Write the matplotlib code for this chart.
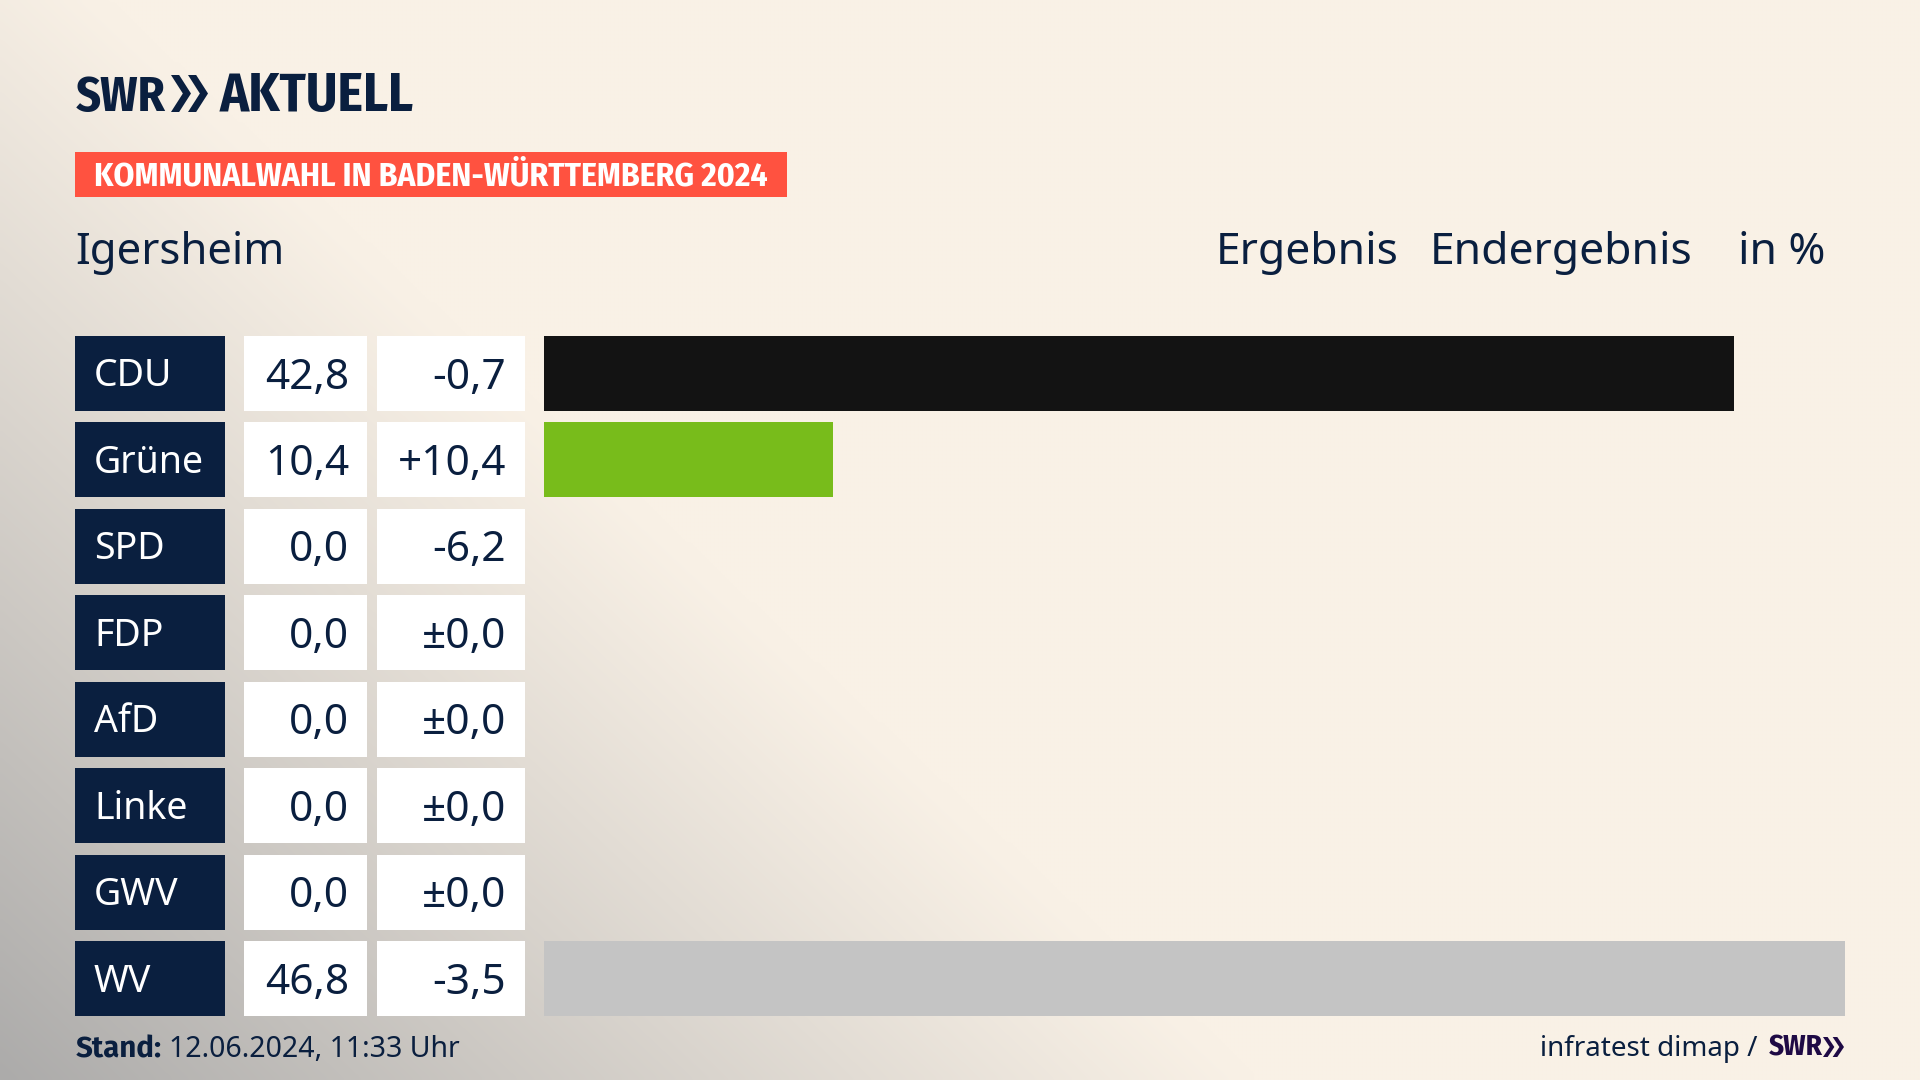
import numpy as np
import matplotlib
matplotlib.use("Agg")
import matplotlib.pyplot as plt
from matplotlib import font_manager as fm
from matplotlib.patches import Rectangle, Polygon

# Data
parties = ["CDU", "Grüne", "SPD", "FDP", "AfD", "Linke", "GWV", "WV"]
results = [42.8, 10.4, 0.0, 0.0, 0.0, 0.0, 0.0, 46.8]
changes = [-0.7, 10.4, -6.2, 0.0, 0.0, 0.0, 0.0, -3.5]
bar_colors = ["#131313", "#78BC1B", "#888888", "#888888", "#888888", "#888888", "#888888", "#C4C4C4"]

NAVY = "#0A1F3F"
PURPLE = "#1F0A45"
BG = np.array([0xF9, 0xF1, 0xE6]) / 255
GREY = np.array([0xAC, 0xAB, 0xAA]) / 255

W, H = 1920, 1080
ROW_TOP, ROW_STEP, ROW_H = 336, 86.43, 75

installed = {f.name for f in fm.fontManager.ttflist}


def pick(*names):
    return [n for n in names if n in installed] + ["DejaVu Sans"]


FONT = pick("Noto Sans")
NARROW = pick("Fira Sans Condensed", "Roboto Condensed", "Barlow Condensed", "Liberation Sans Narrow", "Liberation Sans")
BOLD = pick("Fira Sans", "Lato", "Liberation Sans")


def fmt_result(v):
    return f"{v:.1f}".replace(".", ",")


def fmt_change(v):
    if v == 0:
        return "±0,0"
    return f"{v:+.1f}".replace(".", ",")


def fit_text(ax, x, y, s, width, **kw):
    # set the font size so the string is as wide as in the reference
    t = ax.text(x, y, s, va="baseline", fontsize=20, **kw)
    ext = t.get_window_extent(fig.canvas.get_renderer())
    t.set_fontsize(20 * width / ext.width)
    return t


def chevrons(ax, x, y, h, w, color):
    # the two SWR arrows of the logo
    bw = w * 0.22
    tip = w * 0.32
    for off in (0, w - bw - tip):
        pts = [(x + off, y), (x + off + bw, y), (x + off + bw + tip, y + h / 2),
               (x + off + bw, y + h), (x + off, y + h), (x + off + tip, y + h / 2)]
        ax.add_patch(Polygon(pts, closed=True, color=color, lw=0))


fig = plt.figure(figsize=(19.2, 10.8), dpi=100)

# background gradient from the lower left corner
bg_ax = fig.add_axes([0, 0, 1, 1])
yy, xx = np.mgrid[0:H:270j, 0:W:480j]
d = (xx + 1.065 * (H - yy)) / 1250
w = np.clip(1 - d, 0, 1) ** 1.05
img = BG[None, None, :] * (1 - w[..., None]) + GREY[None, None, :] * w[..., None]
bg_ax.imshow(img, extent=[0, W, H, 0], aspect="auto", interpolation="bicubic")
bg_ax.set_xlim(0, W)
bg_ax.set_ylim(H, 0)
bg_ax.axis("off")

# logo, banner and headline
fit_text(bg_ax, 76, 111, "SWR", 90, family=NARROW, weight="bold", color=NAVY)
chevrons(bg_ax, 171, 75, 37, 37, NAVY)
fit_text(bg_ax, 220, 111, "AKTUELL", 194, family=NARROW, weight="bold", color=NAVY)

bg_ax.add_patch(Rectangle((75, 152), 712, 45, color="#FF5240", lw=0))
fit_text(bg_ax, 94, 185, "KOMMUNALWAHL IN BADEN-WÜRTTEMBERG 2024", 673, family=NARROW, weight="bold", color="white")

bg_ax.text(75, 264, "Igersheim", family=FONT, fontsize=31.5, color=NAVY, va="baseline")
bg_ax.text(1216, 264, "Ergebnis", family=FONT, fontsize=32, color=NAVY, va="baseline")
bg_ax.text(1430, 264, "Endergebnis", family=FONT, fontsize=32, color=NAVY, va="baseline")
bg_ax.text(1825, 264, "in %", family=FONT, fontsize=32, color=NAVY, va="baseline", ha="right")

# table cells
for i, party in enumerate(parties):
    top = ROW_TOP + ROW_STEP * i
    mid = top + ROW_H / 2 + 15
    bg_ax.add_patch(Rectangle((75, top), 150, ROW_H, color=NAVY, lw=0))
    bg_ax.add_patch(Rectangle((244, top), 123, ROW_H, color="white", lw=0))
    bg_ax.add_patch(Rectangle((377, top), 148, ROW_H, color="white", lw=0))
    bg_ax.text(94, mid - 2, party, family=FONT, fontsize=27, color="white", va="baseline")
    bg_ax.text(349, mid, fmt_result(results[i]), family=FONT, fontsize=30.5, color=NAVY, va="baseline", ha="right")
    bg_ax.text(506, mid, fmt_change(changes[i]), family=FONT, fontsize=30.5, color=NAVY, va="baseline", ha="right")

# footer
fit_text(bg_ax, 76, 1057, "Stand:", 86, family=BOLD, weight="bold", color=NAVY)
bg_ax.text(169, 1057, "12.06.2024, 11:33 Uhr", family=FONT, fontsize=20.5, color=NAVY, va="baseline")
bg_ax.text(1757, 1056, "infratest dimap /", family=FONT, fontsize=20, color=NAVY, va="baseline", ha="right")
fit_text(bg_ax, 1769, 1056, "SWR", 54, family=NARROW, weight="bold", color=PURPLE)
chevrons(bg_ax, 1823, 1037, 20, 21, PURPLE)

# bars
bar_h = ROW_H / ROW_STEP
bar_ax = fig.add_axes([544 / W, 1 - 1016 / H, (1845 - 544) / W, (1016 - 336) / H])
bar_ax.barh(range(len(parties)), results, height=bar_h, color=bar_colors)
bar_ax.set_xlim(0, max(results))
bar_ax.set_ylim(len(parties) - 0.5 - (1 - bar_h) / 2, -0.5 + (1 - bar_h) / 2)
bar_ax.axis("off")

fig.savefig("out.png", dpi=100)
